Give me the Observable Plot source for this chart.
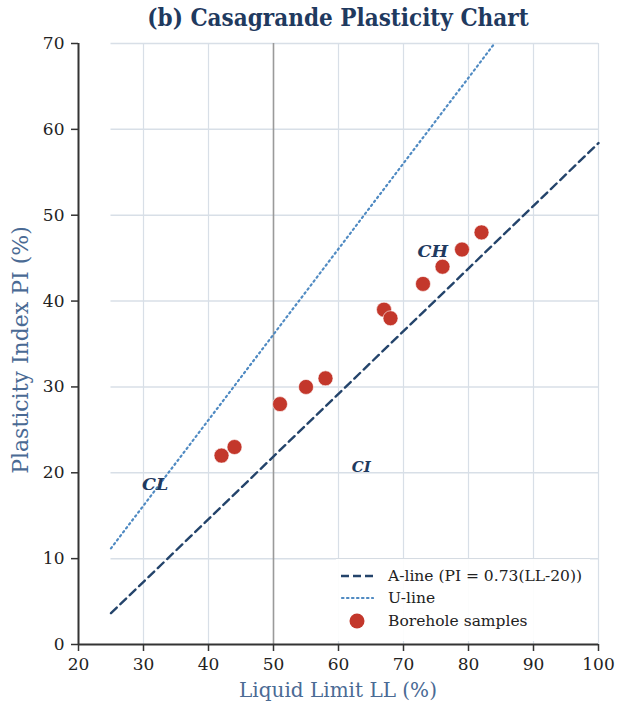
<!DOCTYPE html>
<html><head><meta charset="utf-8">
<script src="https://cdn.jsdelivr.net/npm/d3@7"></script>
<script src="https://cdn.jsdelivr.net/npm/@observablehq/plot@0.6"></script>
<style>
body{margin:0;background:#fff;font-family:"DejaVu Serif",serif;}
#wrap{position:relative;width:619px;height:708px;overflow:hidden;}
#title{position:absolute;left:78px;width:520px;top:4px;text-align:center;font-family:"DejaVu Serif Condensed","DejaVu Serif",serif;font-weight:bold;font-size:24px;color:#1f3a5f;line-height:28px;}
#chart{position:absolute;left:0;top:34px;}
.axlab{position:absolute;font-size:20px;color:#4a6a94;white-space:nowrap;line-height:24px;}
#xlab{left:78px;width:520px;text-align:center;top:678px;}
#ylab{left:21px;top:350px;font-size:22px;transform:translate(-50%,-50%) rotate(-90deg);}
#legend{position:absolute;left:336px;top:558px;width:254px;height:82px;background:rgba(255,255,255,0.92);border-top:1px solid #d5dbe2;font-size:15.5px;color:#222;}
.row{position:absolute;left:0;height:20px;display:flex;align-items:center;}
.row svg{margin-left:4px;margin-right:14px;}
</style>
</head><body>
<div id="wrap">
<div id="title">(b) Casagrande Plasticity Chart</div>
<div id="chart"></div>
<div class="axlab" id="xlab">Liquid Limit LL (%)</div>
<div class="axlab" id="ylab">Plasticity Index PI (%)</div>
<div id="legend"></div>
</div>
<script>
// Data
const sampleLL = [42, 44, 51, 55, 58, 67, 68, 73, 76, 79, 82];
const samplePI = [22, 23, 28, 30, 31, 39, 38, 42, 44, 46, 48];
const aLineLL = [25, 100];
const aLinePI = [3.65, 58.4];
const uLineLL = [25, 84];
const uLinePI = [11.2, 70];
const zoneNames = ["CL", "CI", "CH"];
const zoneLL = [31.8, 63.5, 74.5];
const zonePI = [18.7, 20.6, 45.8];
const xTicks = [20, 30, 40, 50, 60, 70, 80, 90, 100];
const yTicks = [0, 10, 20, 30, 40, 50, 60, 70];
const legendLabels = ["A-line (PI = 0.73(LL-20))", "U-line", "Borehole samples"];

const samples = sampleLL.map((d, i) => ({LL: d, PI: samplePI[i]}));
const aLine = aLineLL.map((d, i) => ({LL: d, PI: aLinePI[i]}));
const uLine = uLineLL.map((d, i) => ({LL: d, PI: uLinePI[i]}));
const zones = zoneNames.map((n, i) => ({name: n, LL: zoneLL[i], PI: zonePI[i]}));

const navy = "#24446b", red = "#c3372b", blue = "#4f8ac2", grid = "#d8dfe7";

const chart = Plot.plot({
  width: 619, height: 674,
  marginTop: 9, marginLeft: 78, marginRight: 21, marginBottom: 64,
  x: {domain: [20, 100], ticks: xTicks, label: null},
  y: {domain: [0, 70], ticks: yTicks, label: null},
  style: {fontFamily: "DejaVu Serif", fontSize: "17px", color: "#222", background: "white"},
  marks: [
    Plot.ruleY(yTicks.filter(t => t > 0), {x1: 25, x2: 100, stroke: grid, strokeWidth: 1.5}),
    Plot.ruleX(xTicks.filter(t => t > 20 && t !== 50), {y1: 0, y2: 70, stroke: grid, strokeWidth: 1.2}),
    Plot.ruleX([50], {y1: 0, y2: 70, stroke: "#9a9a9a", strokeWidth: 1.6}),
    Plot.line(aLine, {x: "LL", y: "PI", stroke: navy, strokeWidth: 2.4, strokeDasharray: "8,5"}),
    Plot.line(uLine, {x: "LL", y: "PI", stroke: blue, strokeWidth: 2.2, strokeDasharray: "1.5,3.5", strokeLinecap: "round"}),
    Plot.dot(samples, {x: "LL", y: "PI", r: 7.5, fill: red, stroke: "white", strokeWidth: 0.6}),
    Plot.text(zones, {x: "LL", y: "PI", text: "name", fontSize: d => d.name === "CI" ? 15 : 17.5, fontWeight: "bold", fontStyle: "italic", fill: "#1f3a5f", fontFamily: "DejaVu Serif"}),
    Plot.ruleY([0], {stroke: "#333", strokeWidth: 2}),
    Plot.ruleX([20], {stroke: "#333", strokeWidth: 2}),
    Plot.axisX({ticks: xTicks, tickSize: 7, tickPadding: 6, stroke: "#333", fill: "#222", strokeWidth: 1.5, label: null}),
    Plot.axisY({ticks: yTicks, tickSize: 7, tickPadding: 7, stroke: "#333", fill: "#222", strokeWidth: 1.5, label: null})
  ]
});
document.getElementById("chart").appendChild(chart);

// Legend
const leg = document.getElementById("legend");
const tops = [7, 29, 52];
const swatches = [
  `<svg width="34" height="10"><line x1="1" y1="5" x2="33" y2="5" stroke="${navy}" stroke-width="2.4" stroke-dasharray="8,4"/></svg>`,
  `<svg width="34" height="10"><line x1="2" y1="5" x2="33" y2="5" stroke="${blue}" stroke-width="2.2" stroke-dasharray="1.5,3.5" stroke-linecap="round"/></svg>`,
  `<svg width="34" height="18"><circle cx="17" cy="9" r="7.5" fill="${red}"/></svg>`
];
legendLabels.forEach((t, i) => {
  const r = document.createElement("div");
  r.className = "row";
  r.style.top = tops[i] + "px";
  r.innerHTML = swatches[i] + `<span>${t}</span>`;
  leg.appendChild(r);
});
</script>
</body></html>
